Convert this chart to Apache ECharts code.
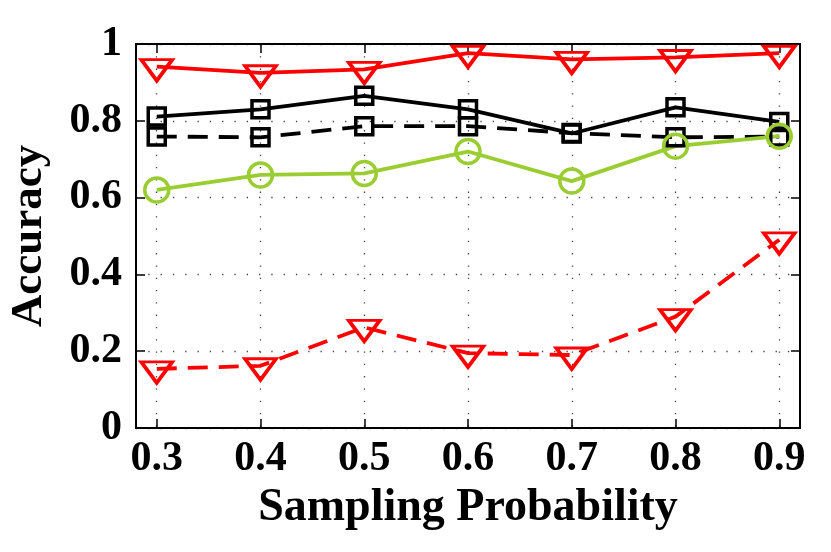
<!DOCTYPE html>
<html>
<head>
<meta charset="utf-8">
<script src="https://cdn.jsdelivr.net/npm/echarts@6/dist/echarts.min.js"></script>
<style>html,body{margin:0;padding:0;background:#fff}#c{width:831px;height:552px}</style>
</head>
<body>
<div id="c"></div>
<script>
const xValues = [0.3, 0.4, 0.5, 0.6, 0.7, 0.8, 0.9];
const xTicks = [0.3, 0.4, 0.5, 0.6, 0.7, 0.8, 0.9];
const yTicks = [0, 0.2, 0.4, 0.6, 0.8, 1];
const redSolid = [0.941, 0.925, 0.934, 0.976, 0.960, 0.965, 0.976];
const blackSolid = [0.811, 0.830, 0.865, 0.830, 0.767, 0.835, 0.797];
const blackDashed = [0.759, 0.757, 0.786, 0.786, 0.768, 0.757, 0.759];
const greenSolid = [0.620, 0.659, 0.663, 0.720, 0.643, 0.734, 0.760];
const redDashed = [0.154, 0.162, 0.262, 0.195, 0.190, 0.290, 0.490];

const FONT = '"Liberation Serif", "Times New Roman", serif';
const pairs = arr => xValues.map((x, i) => [x, arr[i]]);

function series(name, arr, color, dashed, symbol) {
  const s = {
    name, type: 'line', data: pairs(arr), clip: false,
    lineStyle: { color, width: 3.8, type: dashed ? [20, 11] : 'solid' },
    itemStyle: { color: 'rgba(0,0,0,0)', borderColor: color, borderWidth: 3.5 },
    emphasis: { disabled: true },
    animation: false
  };
  if (symbol === 'tri') {
    s.symbol = 'triangle'; s.symbolSize = [31, 21]; s.symbolRotate = 180; s.symbolOffset = [0, 3.5];
  } else if (symbol === 'sq') {
    s.symbol = 'rect'; s.symbolSize = 17;
  } else {
    s.symbol = 'circle'; s.symbolSize = 24;
  }
  return s;
}

const gridLine = { show: true, lineStyle: { color: '#444', width: 1.3, type: [1.3, 11] } };
const chart = echarts.init(document.getElementById('c'), null, { renderer: 'canvas' });
chart.setOption({
  animation: false,
  backgroundColor: '#fff',
  grid: { left: 136, right: 31, top: 44, bottom: 124, containLabel: false, outerBoundsMode: 'none' },
  xAxis: [{
    type: 'value', min: 0.28, max: 0.92, position: 'bottom',
    name: 'Sampling Probability', nameLocation: 'middle', nameGap: 54,
    nameTextStyle: { fontFamily: FONT, fontWeight: 'bold', fontSize: 46, color: '#000' },
    axisLine: { show: true, onZero: false, lineStyle: { color: '#000', width: 2 } },
    axisTick: { show: true, inside: true, length: 9, customValues: xTicks, lineStyle: { color: '#000', width: 1.5 } },
    axisLabel: { customValues: xTicks, margin: 10, fontFamily: FONT, fontWeight: 'bold', fontSize: 42, color: '#000',
      formatter: v => v.toFixed(1) },
    splitLine: gridLine
  }, {
    type: 'value', min: 0.28, max: 0.92, position: 'top',
    axisLine: { show: true, onZero: false, lineStyle: { color: '#000', width: 2 } },
    axisTick: { show: true, inside: true, length: 9, customValues: xTicks, lineStyle: { color: '#000', width: 1.5 } },
    axisLabel: { show: false }, splitLine: { show: false }
  }],
  yAxis: [{
    type: 'value', min: 0, max: 1, interval: 0.2, position: 'left',
    name: 'Accuracy', nameLocation: 'middle', nameGap: 84,
    nameTextStyle: { fontFamily: FONT, fontWeight: 'bold', fontSize: 45, color: '#000' },
    axisLine: { show: true, onZero: false, lineStyle: { color: '#000', width: 2 } },
    axisTick: { show: true, inside: true, length: 9, lineStyle: { color: '#000', width: 1.5 } },
    axisLabel: { margin: 14, fontFamily: FONT, fontWeight: 'bold', fontSize: 42, color: '#000',
      formatter: v => (v === 0 ? '0' : v === 1 ? '1' : v.toFixed(1)) },
    splitLine: gridLine
  }, {
    type: 'value', min: 0, max: 1, interval: 0.2, position: 'right',
    axisLine: { show: true, onZero: false, lineStyle: { color: '#000', width: 2 } },
    axisTick: { show: true, inside: true, length: 9, lineStyle: { color: '#000', width: 1.5 } },
    axisLabel: { show: false }, splitLine: { show: false }
  }],
  series: [
    series('red solid', redSolid, '#ff0000', false, 'tri'),
    series('black solid', blackSolid, '#000000', false, 'sq'),
    series('black dashed', blackDashed, '#000000', true, 'sq'),
    series('green', greenSolid, '#9acd32', false, 'circ'),
    series('red dashed', redDashed, '#ff0000', true, 'tri')
  ]
});
</script>
</body>
</html>
